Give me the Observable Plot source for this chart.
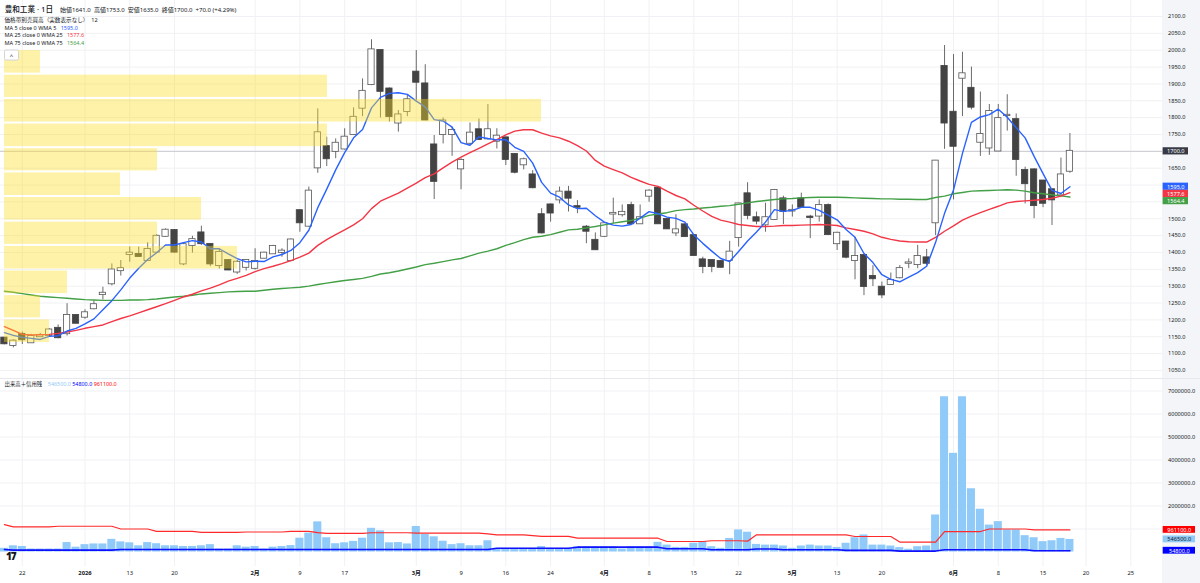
<!DOCTYPE html>
<html><head><meta charset="utf-8">
<script src="https://cdn.jsdelivr.net/npm/d3@7"></script>
<script src="https://cdn.jsdelivr.net/npm/@observablehq/plot@0.6"></script>
<style>
html,body{margin:0;padding:0;background:#fff;}
#wrap{position:relative;width:1200px;height:583px;overflow:hidden;
  background:linear-gradient(to right,#ffffff 1162px,#f4f5f8 1162px);
  font-family:"Noto Sans","Noto Sans CJK JP",sans-serif;color:#131722;}
#wrap svg{position:absolute;left:0;overflow:visible;}
.t{position:absolute;white-space:nowrap;transform:translateY(-50%);line-height:1;}
</style></head>
<body><div id="wrap"></div>
<script>
// ---------- data ----------
const open = [1146,1124,1157,1132,1150,1154,1175,1159,1213,1208, 1233,1275,1307,1346,1394,1394,1376,1401,1448,1465,
  1366,1421,1458,1424,1361,1376,1342,1356,1353,1383, 1396,1400,1376,1524,1478,1651,1714,1700,1707,1750,
  1828,1898,1999,1885,1784,1818,1935,1900,1719,1750, 1750,1648,1724,1764,1737,1730,1740,1691,1660,1630,
  1512,1541,1556,1579,1536,1475,1436,1448,1514,1512, 1539,1485,1567,1591,1498,1458,1482,1450,1378,1376,
  1373,1376,1444,1574,1503,1482,1498,1559,1523,1559, 1505,1508,1539,1426,1431,1376,1391,1329,1297,1305,
  1325,1368,1364,1384,1488,1952,1816,1917,1887,1727, 1710,1701,1806,1794,1643,1645,1612,1586,1571,1641];
const high = [1148,1141,1164,1157,1160,1174,1185,1248,1216,1230, 1256,1297,1366,1376,1416,1416,1429,1453,1470,1468,
  1426,1448,1478,1426,1411,1378,1376,1378,1411,1401, 1421,1411,1440,1526,1594,1826,1742,1737,1767,1829,
  1915,2031,2001,1888,1821,1866,1999,1957,1747,1799, 1772,1678,1784,1796,1839,1767,1742,1693,1680,1643,
  1530,1544,1594,1596,1554,1480,1458,1487,1561,1541, 1549,1541,1586,1594,1500,1512,1485,1452,1386,1378,
  1376,1433,1546,1607,1520,1546,1587,1567,1541,1576, 1510,1556,1544,1460,1433,1445,1393,1361,1312,1339,
  1361,1381,1421,1409,1673,2014,1987,1994,1950,1876, 1839,1839,1868,1811,1653,1648,1613,1588,1680,1753];
const low = [1126,1117,1127,1131,1148,1151,1144,1152,1188,1202, 1230,1259,1301,1330,1371,1386,1374,1398,1445,1398,
  1361,1398,1421,1358,1351,1346,1335,1345,1348,1381, 1394,1386,1372,1460,1475,1635,1655,1678,1704,1747,
  1803,1895,1799,1787,1757,1803,1849,1791,1557,1722, 1685,1586,1717,1732,1734,1707,1658,1633,1645,1589,
  1455,1490,1544,1520,1515,1426,1406,1445,1485,1505, 1483,1483,1549,1483,1468,1447,1445,1389,1337,1340,
  1354,1334,1416,1497,1482,1460,1495,1483,1505,1532, 1441,1490,1450,1406,1381,1319,1272,1299,1263,1302,
  1322,1352,1352,1361,1450,1706,1556,1803,1823,1685, 1688,1700,1760,1626,1544,1500,1533,1480,1569,1635];
const close = [1129,1137,1141,1151,1154,1170,1147,1213,1190,1221, 1245,1279,1348,1352,1398,1388,1409,1448,1466,1401,
  1423,1438,1426,1366,1400,1348,1371,1376,1373,1398, 1418,1404,1437,1488,1582,1755,1678,1724,1742,1801,
  1878,2001,1878,1803,1808,1853,1905,1793,1611,1790, 1762,1673,1754,1735,1764,1745,1676,1638,1675,1592,
  1458,1517,1579,1561,1534,1463,1408,1485,1516,1519, 1485,1503,1582,1485,1470,1467,1447,1391,1358,1358,
  1356,1401,1544,1510,1493,1503,1584,1522,1525,1534, 1504,1539,1453,1457,1386,1388,1299,1322,1274,1317,
  1352,1369,1388,1368,1671,1784,1715,1930,1831,1750, 1818,1797,1807,1676,1604,1539,1546,1556,1630,1700];
const ma5 = [1162,1154,1148,1145,1142,1151,1153,1167,1175,1188, 1203,1230,1257,1289,1324,1353,1379,1399,1422,1422,
  1429,1435,1431,1411,1411,1396,1382,1372,1374,1373, 1387,1394,1406,1429,1466,1533,1588,1645,1696,1740,
  1765,1829,1860,1872,1874,1869,1849,1832,1794,1790, 1772,1726,1718,1743,1738,1734,1735,1712,1700,1665,
  1608,1576,1564,1541,1530,1531,1509,1490,1481,1478, 1483,1502,1521,1515,1505,1501,1490,1452,1427,1404,
  1382,1373,1403,1434,1461,1490,1527,1522,1525,1534, 1534,1525,1511,1497,1468,1445,1397,1370,1334,1320,
  1313,1327,1340,1359,1430,1516,1585,1694,1786,1802, 1809,1825,1801,1770,1740,1685,1634,1584,1575,1595.0];
const ma25 = [1180,1169,1157,1155,1156,1157,1160,1164,1169,1175, 1180,1185,1195,1204,1212,1221,1230,1239,1248,1258,
  1268,1276,1286,1294,1304,1315,1323,1332,1343,1352, 1359,1367,1376,1386,1398,1421,1438,1453,1467,1482,
  1500,1530,1552,1564,1576,1591,1606,1622,1633,1651, 1668,1683,1696,1709,1722,1735,1749,1760,1764,1764,
  1754,1746,1740,1730,1717,1701,1673,1656,1646,1636, 1623,1612,1602,1596,1582,1569,1559,1540,1523,1507,
  1496,1490,1483,1480,1477,1477,1478,1480,1480,1481, 1482,1483,1482,1480,1473,1468,1463,1455,1445,1439,
  1434,1432,1431,1431,1445,1463,1479,1496,1508,1518, 1528,1537,1547,1551,1553,1555,1557,1561,1567,1577.6];
const ma75 = [1285,1282,1278,1274,1270,1268,1266,1264,1262,1260, 1259,1258,1258,1258,1259,1259,1260,1262,1265,1268,
  1270,1273,1277,1279,1281,1283,1284,1285,1285,1288, 1291,1293,1295,1297,1300,1305,1309,1313,1317,1320,
  1323,1329,1336,1340,1345,1351,1357,1364,1368,1373, 1378,1382,1390,1398,1404,1411,1421,1429,1438,1445,
  1448,1453,1460,1467,1469,1473,1477,1482,1487,1491, 1495,1502,1510,1514,1518,1524,1527,1529,1532,1534,
  1537,1539,1543,1547,1551,1554,1557,1559,1560,1562, 1563,1564,1564,1564,1563,1562,1561,1560,1559,1559,
  1558,1558,1557,1557,1563,1567,1574,1578,1582,1583, 1584,1585,1586,1585,1582,1577,1574,1571,1568,1564.4];
const volume = [160000,270000,240000,130000,130000,130000,130000,410000,210000,320000,
  350000,350000,550000,440000,400000,270000,410000,360000,270000,270000,
  240000,240000,270000,320000,130000,130000,270000,210000,240000,130000,
  210000,240000,280000,600000,820000,1310000,620000,360000,400000,460000,
  600000,1030000,920000,400000,410000,350000,1110000,760000,660000,470000,
  320000,360000,270000,270000,490000,160000,160000,160000,160000,160000,
  240000,160000,160000,160000,230000,230000,230000,230000,230000,130000,
  230000,230000,230000,420000,300000,200000,200000,380000,450000,230000,
  160000,590000,960000,860000,330000,300000,300000,260000,160000,260000,
  300000,260000,260000,200000,380000,620000,740000,300000,300000,260000,
  190000,120000,230000,260000,1610000,6750000,4290000,6750000,2750000,1860000,
  1170000,1320000,960000,960000,710000,620000,450000,490000,590000,546500];
const marginBuy = [1190000,1090000,1090000,1090000,1090000,1090000,1120000,1120000,1120000,1120000,
  1120000,1120000,1120000,1000000,1000000,1000000,1000000,900000,900000,900000,
  900000,900000,855000,855000,855000,855000,855000,870000,870000,870000,
  870000,870000,900000,900000,900000,840000,806000,806000,806000,806000,
  806000,838000,838000,838000,838000,838000,822000,822000,822000,822000,
  822000,822000,822000,822000,790000,743000,743000,743000,743000,710000,
  680000,680000,680000,680000,600000,600000,600000,600000,600000,600000,
  600000,600000,600000,600000,457000,457000,457000,457000,457000,490000,
  490000,490000,490000,470000,746000,746000,746000,746000,746000,746000,
  746000,746000,746000,746000,746000,674000,674000,674000,674000,674000,
  430000,430000,430000,430000,430000,890000,890000,890000,890000,890000,
  1000000,1000000,1000000,1000000,1000000,961100,961100,961100,961100,961100];
const marginSell = [110000,80000,80000,80000,80000,80000,80000,80000,80000,80000,
  80000,80000,80000,110000,110000,110000,110000,110000,110000,110000,
  110000,110000,110000,110000,110000,110000,110000,110000,110000,110000,
  110000,110000,110000,110000,110000,110000,110000,110000,110000,110000,
  110000,110000,110000,110000,110000,110000,110000,110000,110000,110000,
  110000,110000,110000,110000,110000,160000,160000,160000,160000,160000,
  160000,160000,160000,160000,210000,210000,210000,210000,210000,210000,
  210000,210000,210000,210000,140000,140000,140000,140000,140000,100000,
  100000,100000,100000,100000,130000,130000,130000,100000,100000,100000,
  100000,100000,100000,100000,70000,70000,70000,70000,70000,70000,
  40000,40000,40000,40000,40000,100000,100000,100000,100000,100000,
  100000,100000,100000,100000,100000,54800,54800,54800,54800,54800];
// volume profile (価格帯別売買高, 12 rows, relative volume)
const profileLow = [1130,1203,1275,1348,1421,1493,1566,1639,1711,1784,1857,1929];
const profileHigh = [1203,1275,1348,1421,1493,1566,1639,1711,1784,1857,1929,2002];
const profileVolume = [45,36,63,233,153,197,116,153,323,537,323,36];
// time axis (trading-day index -> label)
const tickIndex = [2,9,14,19,28,33,38,46,51,56,61,67,72,77,82,88,93,98,106,111,116,120.8,125.8];
const tickLabels = ["22","2026","13","20","2月","9","17","3月","9","16","24","4月","8","15","22","5月","13","20","6月","8","15","20","25"];
const priceTicks = d3.range(1050, 2101, 50);
const volumeTicks = [2000000,3000000,4000000,5000000,6000000,7000000];
const volumeGrid = [1000000,2000000,3000000,4000000,5000000,6000000,7000000];

// ---------- chart ----------
const FONT = '"Noto Sans","Noto Sans CJK JP",sans-serif';
const wrap = document.getElementById("wrap");
const N = close.length;
const xDomain = [-0.4356, 129.34];
const pxX = (xDomain[1] - xDomain[0]) / 1162;          // index units per pixel
const priceDomain = [1026.1, 2147.5];
const pxP = (priceDomain[1] - priceDomain[0]) / 378;    // price units per pixel
const volDomain = [-630435, 7543478];
const pxV = (volDomain[1] - volDomain[0]) / 188;        // shares per pixel

const bars = close.map((c, i) => ({i, o: open[i], h: high[i], l: low[i], c, lo: Math.min(open[i], c), hi: Math.max(open[i], c)}));
const upBars = bars.filter(d => d.c >= d.o);
const downBars = bars.filter(d => d.c < d.o);
const idx = d3.range(N);

// right-scale labels (last values), pushed apart like the reference
const priceLabels = [
  {v: close[N-1], fill: "#363a45", color: "#fff"},
  {v: ma5[N-1], fill: "#2962ff", color: "#fff"},
  {v: ma25[N-1], fill: "#f23645", color: "#fff"},
  {v: ma75[N-1], fill: "#43a047", color: "#fff"}
].sort((a, b) => b.v - a.v);
const yPix = d3.scaleLinear(priceDomain, [378, 0]);
let prev = -Infinity;
for (const l of priceLabels) {
  const p = Math.max(yPix(l.v), prev + 7.2);
  l.y = yPix.invert(p); prev = p;
  l.text = l.v.toFixed(1);
}
const shownPriceTicks = priceTicks.filter(t => priceLabels.every(l => Math.abs(yPix(t) - yPix(l.y)) > 5.5));

const priceChart = Plot.plot({
  width: 1200, height: 378, marginLeft: 0, marginRight: 38, marginTop: 0, marginBottom: 0,
  x: {domain: xDomain, axis: null},
  y: {domain: priceDomain, axis: null},
  style: {background: "transparent", fontFamily: FONT, fontSize: "5.6px", color: "#131722"},
  marks: [
    Plot.gridX(tickIndex, {stroke: "#f0f1f4", strokeOpacity: 1}),
    Plot.gridY(priceTicks, {stroke: "#f0f1f4", strokeOpacity: 1}),
    Plot.ruleY([close[N-1]], {stroke: "#c9cbd0", strokeWidth: 1}),
    Plot.ruleX(bars, {x: "i", y1: "l", y2: "h", stroke: "#5a5a5a", strokeWidth: 0.9}),
    Plot.rect(upBars, {x1: d => d.i - 0.35, x2: d => d.i + 0.35, y1: "lo", y2: "hi", fill: "#ffffff", stroke: "#555555", strokeWidth: 0.8, insetTop: -0.5, insetBottom: -0.5}),
    Plot.rect(downBars, {x1: d => d.i - 0.35, x2: d => d.i + 0.35, y1: "lo", y2: "hi", fill: "#434343", stroke: "#434343", strokeWidth: 0.8, insetTop: -0.5, insetBottom: -0.5}),
    Plot.line(idx, {x: i => i, y: i => ma75[i], stroke: "#43a047", strokeWidth: 1.4}),
    Plot.line(idx, {x: i => i, y: i => ma25[i], stroke: "#f23645", strokeWidth: 1.4}),
    Plot.line(idx, {x: i => i, y: i => ma5[i], stroke: "#2962ff", strokeWidth: 1.4}),
    Plot.axisY(shownPriceTicks, {anchor: "right", tickSize: 0, tickPadding: 5.5, tickFormat: d => d.toFixed(1), label: null, fill: "#131722", fontSize: 5.6}),
    Plot.rect(priceLabels, {x1: () => xDomain[1] + 0.6 * pxX, x2: () => xDomain[1] + 26 * pxX, y1: d => d.y - 3.6 * pxP, y2: d => d.y + 3.6 * pxP, fill: "fill"}),
    Plot.text(priceLabels, {x: () => xDomain[1] + 13.3 * pxX, y: "y", text: "text", fill: "color", fontSize: 5.6})
  ]
});
priceChart.style.top = "0px";
wrap.appendChild(priceChart);

// volume-profile overlay (semi-transparent, drawn over the candles)
const profile = profileVolume.map((v, k) => ({v, lo: profileLow[k], hi: profileHigh[k]}));
const profileChart = Plot.plot({
  width: 1200, height: 378, marginLeft: 4, marginRight: 659, marginTop: 0, marginBottom: 0,
  x: {domain: [0, 537], axis: null},
  y: {domain: priceDomain, axis: null},
  style: {background: "transparent"},
  marks: [
    Plot.rectX(profile, {x: "v", y1: "lo", y2: "hi", fill: "#fcde26", fillOpacity: 0.4, insetTop: 1, insetBottom: 1})
  ]
});
profileChart.style.top = "0px";
wrap.appendChild(profileChart);

// volume pane
const labelMap = new Map(tickIndex.map((d, k) => [d, tickLabels[k]]));
const boldTicks = tickIndex.filter(d => /月|2026/.test(labelMap.get(d)));
const plainTicks = tickIndex.filter(d => !boldTicks.includes(d));
const vols = idx.map(i => ({i, v: volume[i]}));
const volLabels = [
  {v: marginBuy[N-1], fill: "#ff0000", color: "#fff"},
  {v: volume[N-1], fill: "#90caf9", color: "#131722"},
  {v: marginSell[N-1], fill: "#0000ff", color: "#fff"}
].map(d => ({...d, text: d.v.toFixed(1)}));

const volChart = Plot.plot({
  width: 1200, height: 205, marginLeft: 0, marginRight: 38, marginTop: 0, marginBottom: 17,
  x: {domain: xDomain, axis: null},
  y: {domain: volDomain, axis: null},
  style: {background: "transparent", fontFamily: FONT, fontSize: "5.6px", color: "#131722"},
  marks: [
    Plot.gridX(tickIndex, {stroke: "#f0f1f4", strokeOpacity: 1}),
    Plot.gridY(volumeGrid, {stroke: "#f0f1f4", strokeOpacity: 1}),
    Plot.rectY(vols, {x1: d => d.i - 0.45, x2: d => d.i + 0.45, y1: 0, y2: "v", fill: "#90caf9"}),
    Plot.line(idx, {x: i => i, y: i => marginBuy[i], stroke: "#ff2a2a", strokeWidth: 1.2}),
    Plot.line(idx, {x: i => i, y: i => marginSell[i], stroke: "#1010ff", strokeWidth: 1.6}),
    Plot.axisY(volumeTicks, {anchor: "right", tickSize: 0, tickPadding: 5.5, tickFormat: d => d.toFixed(1), label: null, fill: "#131722", fontSize: 5.6}),
    Plot.rect(volLabels, {x1: () => xDomain[1] + 0.7 * pxX, x2: () => xDomain[1] + 33 * pxX, y1: d => d.v - 3.4 * pxV, y2: d => d.v + 3.4 * pxV, fill: "fill"}),
    Plot.text(volLabels, {x: () => xDomain[1] + 16.8 * pxX, y: "v", text: "text", fill: "color", fontSize: 5.6}),
    Plot.axisX(plainTicks, {anchor: "bottom", tickSize: 0, tickPadding: 4, tickFormat: d => labelMap.get(d), label: null, fill: "#131722", fontSize: 5.8}),
    Plot.axisX(boldTicks, {anchor: "bottom", tickSize: 0, tickPadding: 4, tickFormat: d => labelMap.get(d), label: null, fill: "#131722", fontSize: 5.8, fontWeight: "bold"})
  ]
});
volChart.style.top = "378px";
wrap.appendChild(volChart);

// ---------- texts (legend / header) ----------
function addText(html, left, cy, size, extra = "") {
  const d = document.createElement("div");
  d.className = "t";
  d.style.left = left + "px"; d.style.top = cy + "px"; d.style.fontSize = size + "px";
  d.style.cssText += extra;
  d.innerHTML = html;
  wrap.appendChild(d);
  return d;
}
const sep = document.createElement("div");
sep.style.cssText = "position:absolute;left:0;top:377.5px;width:1200px;height:1px;background:#e6e8ee;";
wrap.appendChild(sep);

addText("豊和工業 · 1日", 4.7, 10, 7.6, "font-weight:500;");
addText("始値1641.0&nbsp; 高値1753.0&nbsp; 安値1635.0&nbsp; 終値1700.0&nbsp; +70.0 (+4.29%)", 60, 10, 6.0);
addText("価格帯別売買高（実数表示なし）&nbsp; 12", 4.5, 20.7, 5.6);
addText('MA 5 close 0 WMA 5&nbsp;&nbsp; <span style="color:#2962ff">1595.0</span>', 4.5, 28.7, 5.5);
addText('MA 25 close 0 WMA 25&nbsp;&nbsp; <span style="color:#f23645">1577.6</span>', 4.5, 36.2, 5.5);
addText('MA 75 close 0 WMA 75&nbsp;&nbsp; <span style="color:#43a047">1564.4</span>', 4.5, 43.7, 5.5);
addText("^", 4, 55, 6, "width:13px;height:9px;background:#fff;border:1px solid #d1d4dc;border-radius:2px;text-align:center;line-height:11px;");
addText('出来高＋信用残&nbsp;&nbsp;&nbsp; <span style="color:#90caf9">546500.0</span> <span style="color:#0000ff">54800.0</span> <span style="color:#ff0000">961100.0</span>', 4.5, 385, 5.4);
addText("17", 6, 556, 10, "font-weight:900;letter-spacing:-1px;color:#131722;");
</script>
</body></html>
